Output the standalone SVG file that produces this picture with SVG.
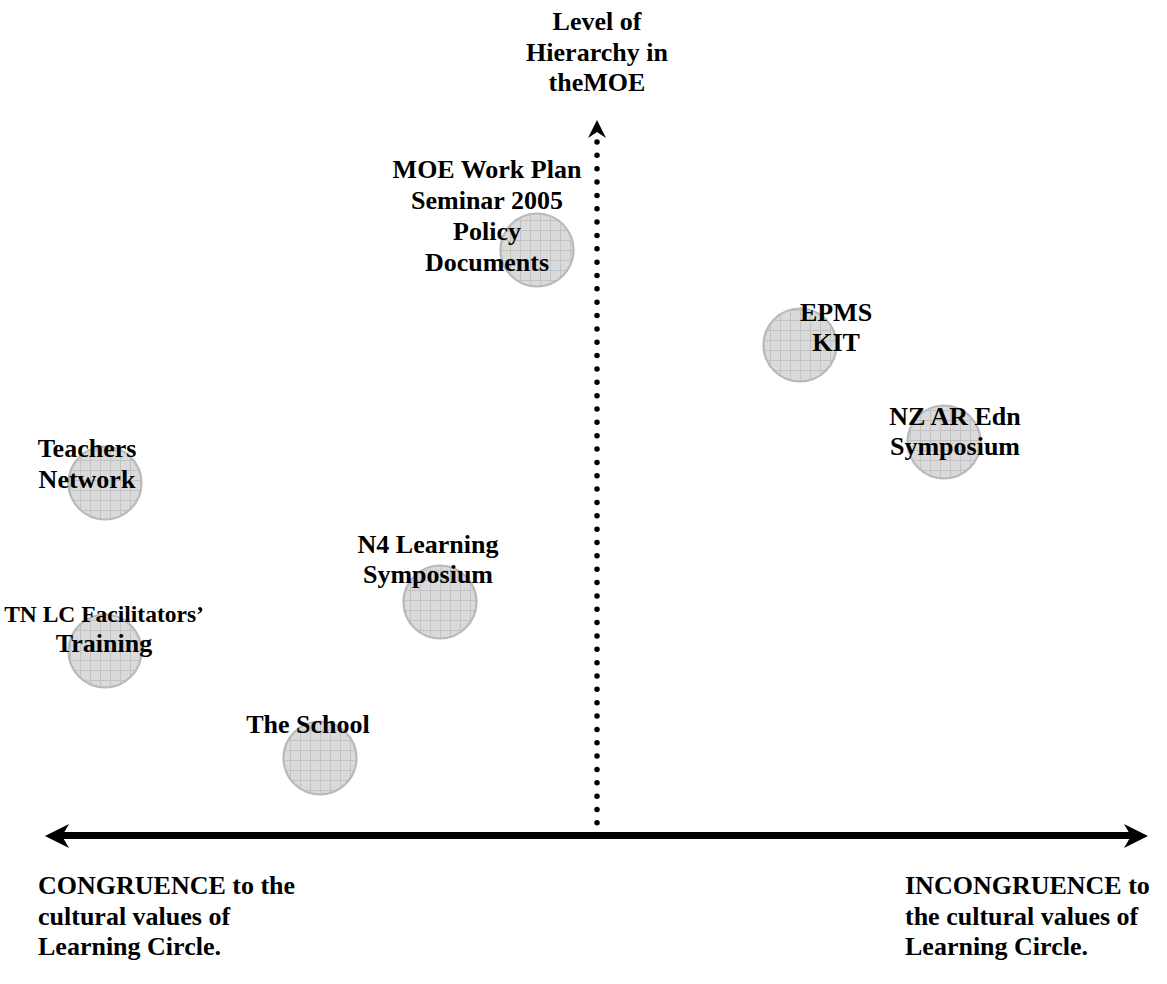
<svg xmlns="http://www.w3.org/2000/svg" width="1167" height="984" viewBox="0 0 1167 984">
<style>
text{font-family:"Liberation Serif","Times New Roman",serif;font-weight:bold;font-size:26px;fill:#000}
text.s{font-size:23.5px}
.c{text-anchor:middle}
.node circle{fill:url(#grid);stroke:#b9b9b9;stroke-width:2.2}
</style>
<defs>
<pattern id="grid" patternUnits="userSpaceOnUse" width="10" height="10">
<rect width="10" height="10" fill="#dadada"/>
<path d="M0 0.5H10M0.5 0V10" stroke="#c2c2c2" stroke-width="1"/>
</pattern>
</defs>
<rect width="1167" height="984" fill="#fff"/>
<g id="connectors">
<line x1="60" y1="835.5" x2="1133" y2="835.5" stroke="#000" stroke-width="7"/>
<polygon points="45,836 69,824 62,836 69,848" fill="#000"/>
<polygon points="1148,836 1124,824 1131,836 1124,848" fill="#000"/>
<line x1="597" y1="142" x2="597" y2="823" stroke="#000" stroke-width="5.5" stroke-linecap="round" stroke-dasharray="0 13.35"/>
<polygon points="597,120 606,138 597,132 588,138" fill="#000"/>
</g>
<g id="axis-y-label">
<text class="c" x="597" y="30">Level of</text>
<text class="c" x="597" y="60.5">Hierarchy in</text>
<text class="c" x="597" y="91">theMOE</text>
</g>
<g id="node-moe" class="node">
<circle cx="537" cy="250" r="36.5"/>
<text class="c" x="487" y="178">MOE Work Plan</text>
<text class="c" x="487" y="209">Seminar 2005</text>
<text class="c" x="487" y="240">Policy</text>
<text class="c" x="487" y="271">Documents</text>
</g>
<g id="node-epms" class="node">
<circle cx="800" cy="345" r="36.5"/>
<text class="c" x="836" y="321">EPMS</text>
<text class="c" x="836" y="351">KIT</text>
</g>
<g id="node-nzar" class="node">
<circle cx="944" cy="442" r="36.5"/>
<text class="c" x="955" y="425">NZ AR Edn</text>
<text class="c" x="955" y="455">Symposium</text>
</g>
<g id="node-teachers" class="node">
<circle cx="105" cy="483" r="36.5"/>
<text class="c" x="87" y="457">Teachers</text>
<text class="c" x="87" y="488">Network</text>
</g>
<g id="node-n4" class="node">
<circle cx="440" cy="602" r="36.5"/>
<text class="c" x="428" y="553">N4 Learning</text>
<text class="c" x="428" y="583">Symposium</text>
</g>
<g id="node-tnlc" class="node">
<circle cx="105" cy="651" r="36.5"/>
<text class="c s" x="104" y="622">TN LC Facilitators’</text>
<text class="c" x="104" y="652">Training</text>
</g>
<g id="node-school" class="node">
<circle cx="320" cy="758" r="36.5"/>
<text class="c" x="308" y="733">The School</text>
</g>
<g id="axis-x-left-label">
<text x="38" y="894">CONGRUENCE to the</text>
<text x="38" y="924.5">cultural values of</text>
<text x="38" y="955">Learning Circle.</text>
</g>
<g id="axis-x-right-label">
<text x="905" y="894">INCONGRUENCE to</text>
<text x="905" y="924.5">the cultural values of</text>
<text x="905" y="955">Learning Circle.</text>
</g>
</svg>
